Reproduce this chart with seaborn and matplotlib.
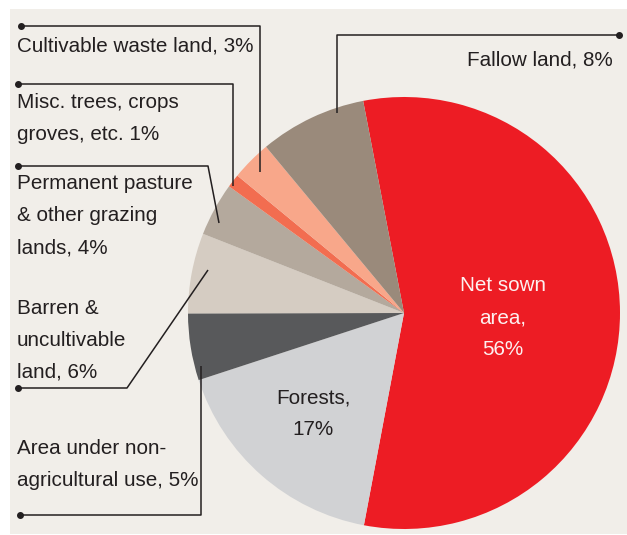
import matplotlib
matplotlib.use("Agg")
import matplotlib.pyplot as plt
import seaborn as sns


categories = ["Net sown area", "Forests", "Area under non-agricultural use",
              "Barren & uncultivable land", "Permanent pasture & other grazing lands",
              "Misc. trees, crops groves, etc.", "Cultivable waste land", "Fallow land"]
shares = [56, 17, 5, 6, 4, 1, 3, 8]
slice_colors = ["#ed1c24", "#d1d2d4", "#58595b", "#d5ccc2",
                "#b4a99d", "#f26d50", "#f8a78a", "#9a8a7b"]
label_texts = ["Net sown\narea,\n56%", "Forests,\n17%",
               "Area under non-\nagricultural use, 5%",
               "Barren &\nuncultivable\nland, 6%",
               "Permanent pasture\n& other grazing\nlands, 4%",
               "Misc. trees, crops\ngroves, etc. 1%",
               "Cultivable waste land, 3%", "Fallow land, 8%"]

# layout in pixel coords (y down): x, first baseline, alignment, colour
label_layout = [
    (503, 291, "center", "#fdf0f0"),
    (313, 403, "center", "#231f20"),
    (17, 454, "left", "#231f20"),
    (17, 314, "left", "#231f20"),
    (17, 189, "left", "#231f20"),
    (17, 108, "left", "#231f20"),
    (17, 52, "left", "#231f20"),
    (613, 65, "right", "#231f20"),
]
# leader lines: dot first, then path to the slice
leaders = [
    None,
    None,
    [(20, 515), (201, 515), (201, 366)],
    [(18, 388), (127, 388), (208, 270)],
    [(18, 166), (208, 166), (219, 223)],
    [(18, 84), (233, 84), (233, 186)],
    [(21, 26), (260, 26), (260, 172)],
    [(619, 35), (337, 35), (337, 113)],
]

W, H = 627, 535
sns.set_theme(style="white")
plt.rcParams["font.family"] = ["Liberation Sans", "DejaVu Sans"]

fig = plt.figure(figsize=(W / 100, H / 100), dpi=100, facecolor="white")
ax = fig.add_axes([0, 0, 1, 1])

ax.add_patch(plt.Rectangle((10, 9), W - 10, 525, color="#f1eee9", lw=0, zorder=0))

# y axis is inverted below, so counterclock=True draws clockwise on screen
ax.pie(shares, colors=slice_colors, center=(404, 313), radius=216,
       startangle=-100.9, counterclock=True,
       wedgeprops=dict(linewidth=0), frame=False)

for pts in leaders:
    if pts is None:
        continue
    xs, ys = zip(*pts)
    ax.plot(xs, ys, color="#231f20", lw=1.1, zorder=3, solid_capstyle="butt")
    ax.plot(xs[0], ys[0], "o", color="#231f20", ms=4, zorder=4)

for text, (x, y0, ha, col) in zip(label_texts, label_layout):
    for i, line in enumerate(text.split("\n")):
        ax.text(x, y0 + i * 32, line, ha=ha, va="baseline",
                fontsize=14.9, color=col, zorder=5)

ax.set_xlim(0, W)
ax.set_ylim(H, 0)
ax.set_aspect("equal")
ax.axis("off")

fig.savefig("out.png", dpi=100, facecolor="white")
